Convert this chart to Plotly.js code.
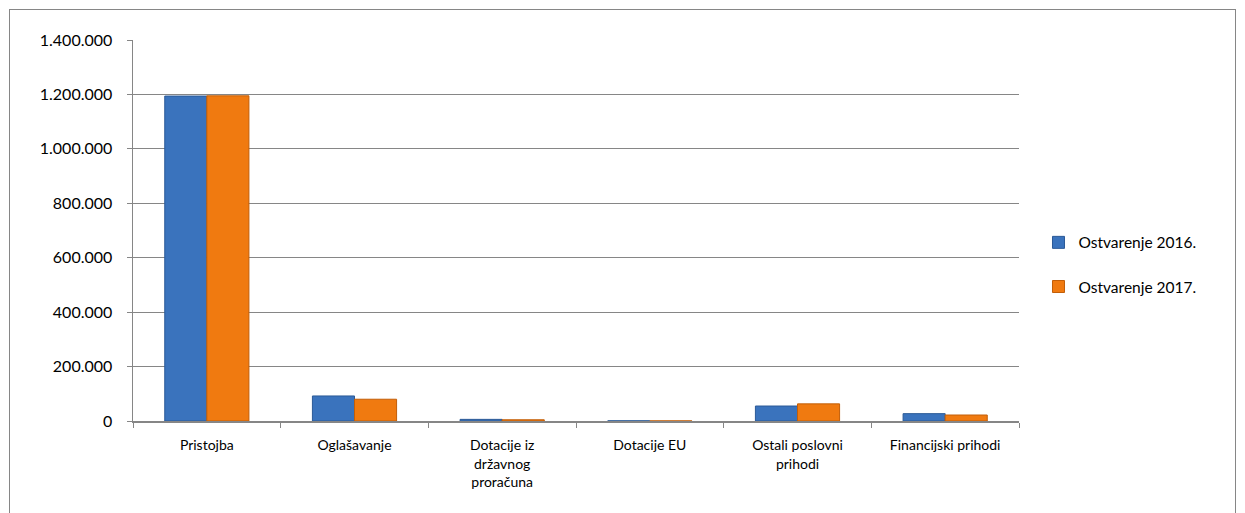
<!DOCTYPE html>
<html>
<head>
<meta charset="utf-8">
<script src="https://cdn.plot.ly/plotly-3.0.1.min.js"></script>
<style>
html,body{margin:0;padding:0;background:#fff;}
#frame{position:absolute;left:9px;top:9px;width:1227px;height:510px;border:1px solid #868686;box-sizing:border-box;}
#chart{position:absolute;left:0;top:0;width:1245px;height:513px;}
</style>
</head>
<body>
<div id="frame"></div>
<div id="chart"></div>
<script>
var categories = ["Pristojba", "Oglašavanje", "Dotacije iz<br>državnog<br>proračuna", "Dotacije EU", "Ostali poslovni<br>prihodi", "Financijski prihodi"];
var values2016 = [1194000, 92000, 6000, 500, 55000, 27000];
var values2017 = [1195000, 80000, 4500, 300, 63000, 22000];
var seriesNames = ["Ostvarenje 2016.", "Ostvarenje 2017."];
var yTicks = [0, 200000, 400000, 600000, 800000, 1000000, 1200000, 1400000];
var yTickLabels = ["0", "200.000", "400.000", "600.000", "800.000", "1.000.000", "1.200.000", "1.400.000"];

var font = "Lato, 'Open Sans', 'DejaVu Sans', sans-serif";
var traces = [
  {type:"bar", x:categories, y:values2016, name:seriesNames[0], legendgroup:"a",
   marker:{color:"#3A73BD", line:{color:"#2B5A97", width:1}}},
  {type:"bar", x:categories, y:values2017, name:seriesNames[1], legendgroup:"b",
   marker:{color:"#F07A10", line:{color:"#C25E08", width:1}}}
];
var layout = {
  width:1245, height:513,
  paper_bgcolor:"rgba(0,0,0,0)", plot_bgcolor:"rgba(0,0,0,0)",
  margin:{l:133, r:226, t:40, b:92},
  barmode:"group", bargap:0.43, bargroupgap:0,
  font:{family:font, color:"#000", size:13},
  xaxis:{showgrid:false, showline:true, linecolor:"#868686", linewidth:1.5,
         ticks:"outside", tickson:"boundaries", ticklen:5, tickcolor:"#868686",
         ticklabelstandoff:11,
         tickfont:{size:14, family:font}, fixedrange:true},
  yaxis:{range:[0,1400000], tickvals:yTicks, ticktext:yTickLabels, showgrid:true,
         gridcolor:"#868686", gridwidth:1, showline:true, linecolor:"#868686", linewidth:1.5,
         ticks:"outside", ticklen:5, tickcolor:"#868686", zeroline:false,
         ticklabelstandoff:11,
         tickfont:{size:16, family:font}, fixedrange:true},
  legend:{x:1.022, xanchor:"left", y:0.41, yanchor:"middle", tracegroupgap:21,
          font:{size:15.5, family:font}, itemwidth:30},
  showlegend:true
};
Plotly.newPlot("chart", traces, layout, {displayModeBar:false, staticPlot:true});
</script>
</body>
</html>
